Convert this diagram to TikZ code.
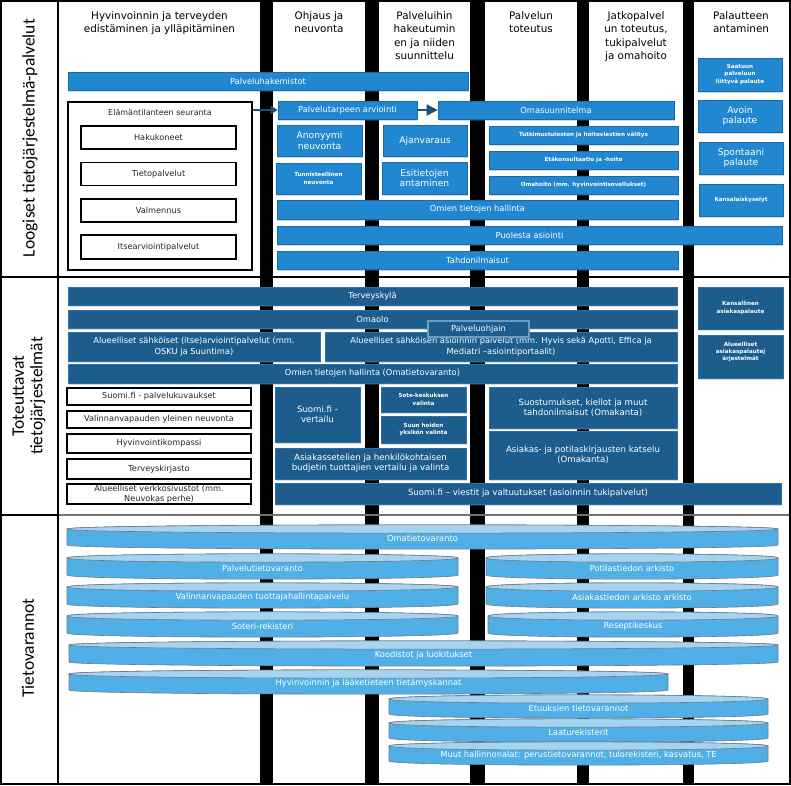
\documentclass[tikz,border=0pt]{standalone}
\usepackage{fontspec}
\setmainfont{DejaVu Sans}
\newfontfamily\labelfont{Carlito}
\usetikzlibrary{positioning,arrows.meta,shadows}
\definecolor{topblue}{RGB}{32,135,208}
\definecolor{topedge}{RGB}{24,108,172}
\definecolor{midblue}{RGB}{28,93,142}
\definecolor{midedge}{RGB}{44,114,168}
\definecolor{arrowblue}{RGB}{31,78,121}
\definecolor{cylblue}{RGB}{80,175,230}
\definecolor{cyllight}{RGB}{165,212,240}
\definecolor{cyledge}{RGB}{112,122,132}
% storage cylinder: name, x1, x2, y top, y bottom, text
\newcommand{\dbcyl}[6]{%
  \filldraw[cylbody] ({#2},{#4}) .. controls ({#2},{#4-5.5}) and ({#3},{#4-5.5}) .. ({#3},{#4})
    -- ({#3},{#5}) .. controls ({#3},{#5+5.5}) and ({#2},{#5+5.5}) .. ({#2},{#5}) -- cycle;
  \filldraw[cyltop] ({#2},{#4}) .. controls ({#2},{#4-5.5}) and ({#3},{#4-5.5}) .. ({#3},{#4})
    .. controls ({#3},{#4+5.5}) and ({#2},{#4+5.5}) .. ({#2},{#4}) -- cycle;
  \node[cyltext] (#1) at ({(#2+#3)/2},{(#4+#5)/2+1.5}) {#6};}
\begin{document}
\begin{tikzpicture}[x=1pt,y=-1pt,
    colhead/.style={anchor=north, align=center, inner sep=0pt, font=\fontsize{10.4}{13.5}\selectfont},
    sidelabel/.style={rotate=90, align=center, inner sep=0pt, font=\labelfont\fontsize{17.5}{18.5}\selectfont},
    topbox/.style={fill=topblue, draw=topedge, line width=0.6pt, text=white, align=center, inner sep=0pt,
      font=\fontsize{8.3}{10}\selectfont, drop shadow={shadow xshift=1pt, shadow yshift=-1.5pt, opacity=0.3}},
    midbox/.style={topbox, fill=midblue, draw=midedge},
    smallprint/.style={font=\bfseries\fontsize{5.6}{7.8}\selectfont},
    largeprint/.style={font=\fontsize{9.2}{10.5}\selectfont},
    midprint/.style={font=\fontsize{8.6}{10.2}\selectfont},
    plainbox/.style={draw=black, line width=1.6pt, fill=white, text=black!85, align=center, inner sep=0pt,
      font=\fontsize{8.2}{10}\selectfont},
    flowarrow/.style={draw=arrowblue, line width=1.8pt},
    cylbody/.style={fill=cylblue, draw=cyledge, line width=0.6pt},
    cyltop/.style={fill=cyllight, draw=cyledge, line width=0.6pt},
    cyltext/.style={text=white, inner sep=0pt, font=\fontsize{8.3}{10}\selectfont}]
  \useasboundingbox (0,0) rectangle (791,785);
  %% frame and columns
  \fill[black] (0,0) rectangle (791,785);
  \foreach \xa/\xb in {2/57,59/260,273/365,379/470,485/577,589/683,694/789}
    \fill[white] (\xa,2) rectangle (\xb,783);
  \draw[line width=2pt] (0,277) -- (791,277);
  \draw[black!55, line width=1.5pt] (59,515) -- (789,515);
  \draw[line width=2pt] (0,515) -- (59,515);
  %% row labels
  \node[sidelabel] (logiset) at (30,138) {Loogiset tietojärjestelmä-palvelut};
  \node[sidelabel] (toteuttavat) at (29,396) {Toteuttavat\\tietojärjestelmät};
  \node[sidelabel] (varannot) at (28,648) {Tietovarannot};
  %% column heads
  \node[colhead] (hyvinvointi) at (159.5,11) {Hyvinvoinnin ja terveyden\\edistäminen ja ylläpitäminen};
  \node[colhead] (ohjaus) at (319,11) {Ohjaus ja\\neuvonta};
  \node[colhead] (hakeutuminen) at (424.5,11) {Palveluihin\\hakeutumin\\en ja niiden\\suunnittelu};
  \node[colhead] (toteutus) at (531,11) {Palvelun\\toteutus};
  \node[colhead] (jatkopalvelut) at (636,11) {Jatkopalvel\\un toteutus,\\tukipalvelut\\ja omahoito};
  \node[colhead] (palaute) at (741,11) {Palautteen\\antaminen};
  %% logical services
  \node[topbox, minimum width=400pt, minimum height=18pt] (hakemistot) at (268,81) {Palveluhakemistot};
  \node[plainbox, minimum width=184pt, minimum height=168pt] (seuranta) at (160,186) {};
  \node[inner sep=0pt, text=black!85, font=\fontsize{8}{9}\selectfont] (seurantaotsikko) [below=8pt of seuranta.north] {Elämäntilanteen seuranta};
  \node[plainbox, minimum width=155pt, minimum height=23pt] (hakukoneet) at (158.5,137.5) {Hakukoneet};
  \node[plainbox, minimum width=155pt, minimum height=23pt] (tietopalvelut) [below=12pt of hakukoneet] {Tietopalvelut};
  \node[plainbox, minimum width=155pt, minimum height=23pt] (valmennus) [below=12pt of tietopalvelut] {Valmennus};
  \node[plainbox, minimum width=155pt, minimum height=24pt] (itsearviointi) [below=11pt of valmennus] {Itsearviointipalvelut};
  \node[topbox, minimum width=139pt, minimum height=18pt] (tarve) at (347.5,110) {Palvelutarpeen arviointi};
  \node[topbox, minimum width=236pt, minimum height=18pt] (omasuunnitelma) at (556,110) {Omasuunnitelma};
  \draw[flowarrow, -{Triangle[length=7pt,width=8pt]}] (tarve.west -| seuranta.east) -- (tarve.west);
  \draw[flowarrow, -{Triangle[length=11pt,width=11pt]}] (tarve.east) -- (omasuunnitelma.west);
  \node[topbox, largeprint, minimum width=85pt, minimum height=31pt] (anonyymi) at (319.5,140.5) {Anonyymi\\neuvonta};
  \node[topbox, largeprint, minimum width=84pt, minimum height=31pt] (ajanvaraus) at (425,140.5) {Ajanvaraus};
  \node[topbox, smallprint, minimum width=85pt, minimum height=31pt] (tunnisteellinen) at (318.5,178.5) {Tunnisteellinen\\neuvonta};
  \node[topbox, largeprint, minimum width=85pt, minimum height=32pt] (esitiedot) at (424.5,178) {Esitietojen\\antaminen};
  \node[topbox, smallprint, minimum width=189pt, minimum height=18pt] (tulokset) at (583.5,135) {Tutkimustulosten ja hoitoviestien välitys};
  \node[topbox, smallprint, minimum width=189pt, minimum height=18pt] (etakonsultaatio) at (583.5,160) {Etäkonsultaatio ja -hoito};
  \node[topbox, smallprint, minimum width=189pt, minimum height=18pt] (omahoito) at (583.5,185) {Omahoito (mm. hyvinvointisovellukset)};
  \node[topbox, minimum width=401pt, minimum height=19pt] (omattiedot) at (477.5,209.5) {Omien tietojen hallinta};
  \node[topbox, minimum width=505pt, minimum height=18pt] (puolesta) at (529.5,235) {Puolesta asiointi};
  \node[topbox, minimum width=401pt, minimum height=18pt] (tahdon) at (477.5,260) {Tahdonilmaisut};
  \node[topbox, smallprint, minimum width=84pt, minimum height=33pt] (saatuun) at (740,74.5) {Saatuun\\palveluun\\liittyvä palaute};
  \node[topbox, largeprint, minimum width=84pt, minimum height=32pt] (avoin) at (740,116) {Avoin\\palaute};
  \node[topbox, largeprint, minimum width=84pt, minimum height=32pt] (spontaani) at (741,158) {Spontaani\\palaute};
  \node[topbox, smallprint, minimum width=84pt, minimum height=32pt] (kyselyt) at (741,200) {Kansalaiskyselyt};
  %% implementing systems
  \node[midbox, minimum width=609pt, minimum height=18pt] (terveyskyla) at (372.5,296) {Terveyskylä};
  \node[midbox, minimum width=609pt, minimum height=18pt] (omaolo) at (372.5,319) {Omaolo};
  \node[midbox, font=\fontsize{8.3}{11}\selectfont, minimum width=252pt, minimum height=29pt] (arviointipalvelut) at (194,346.5)
    {Alueelliset sähköiset (itse)arviointipalvelut (mm.\\OSKU ja Suuntima)};
  \node[midbox, font=\fontsize{8.3}{11}\selectfont, minimum width=352pt, minimum height=29pt] (asiointipalvelut) at (501,347)
    {Alueelliset sähköisen asioinnin palvelut (mm. Hyvis sekä Apotti, Effica ja\\Mediatri –asiointiportaalit)};
  \node[midbox, draw=midedge!70!white, line width=1.2pt, minimum width=101pt, minimum height=16pt] (ohjain) at (478.5,329) {Palveluohjain};
  \node[midbox, minimum width=609pt, minimum height=19pt] (omatietohallinta) at (372.5,373.5) {Omien tietojen hallinta (Omatietovaranto)};
  \node[midbox, smallprint, minimum width=85pt, minimum height=42pt] (kansallinen) at (740.5,308) {Kansallinen\\asiakaspalaute};
  \node[midbox, font=\bfseries\fontsize{5.6}{6.8}\selectfont, minimum width=85pt, minimum height=43pt] (alueellinenpalaute) at (740.5,356.5)
    {Alueelliset\\asiakaspalautej\\ärjestelmät\\[4pt]};
  \node[plainbox, minimum width=184pt, minimum height=17pt] (kuvaukset) at (159,396.5) {Suomi.fi - palvelukuvaukset};
  \node[plainbox, minimum width=184pt, minimum height=17pt] (yleinenneuvonta) at (159,419.5) {Valinnanvapauden yleinen neuvonta};
  \node[plainbox, minimum width=184pt, minimum height=19pt] (kompassi) at (159,443.5) {Hyvinvointikompassi};
  \node[plainbox, minimum width=184pt, minimum height=20pt] (kirjasto) at (159,469) {Terveyskirjasto};
  \node[plainbox, font=\fontsize{8.2}{9.6}\selectfont, minimum width=184pt, minimum height=20pt] (verkkosivustot) at (159,494) {Alueelliset verkkosivustot (mm.\\Neuvokas perhe)};
  \node[midbox, midprint, minimum width=85pt, minimum height=55pt] (vertailu) at (317.5,414.5) {Suomi.fi -\\vertailu};
  \node[midbox, smallprint, minimum width=85pt, minimum height=25pt] (sotekeskus) at (423.5,399.5) {Sote-keskuksen\\valinta};
  \node[midbox, smallprint, minimum width=85pt, minimum height=27pt] (suunhoito) at (423.5,429.5) {Suun hoidon\\yksikön valinta};
  \node[midbox, midprint, minimum width=191pt, minimum height=31pt] (setelit) at (370.5,463.5)
    {Asiakassetelien ja henkilökohtaisen\\budjetin tuottajien vertailu ja valinta};
  \node[midbox, midprint, minimum width=188pt, minimum height=41pt] (suostumukset) at (583,407.5)
    {Suostumukset, kiellot ja muut\\tahdonilmaisut (Omakanta)};
  \node[midbox, midprint, minimum width=188pt, minimum height=48pt] (katselu) at (583,455)
    {Asiakas- ja potilaskirjausten katselu\\(Omakanta)};
  \node[midbox, midprint, minimum width=506pt, minimum height=21pt] (viestit) at (528,493.5)
    {Suomi.fi – viestit ja valtuutukset (asioinnin tukipalvelut)};
  %% data stores
  \dbcyl{omatieto}{67}{778}{529}{545}{Omatietovaranto}
  \dbcyl{palvelutieto}{67}{458}{558}{575}{Palvelutietovaranto}
  \dbcyl{potilastieto}{486}{778}{558}{575}{Potilastiedon arkisto}
  \dbcyl{tuottajat}{67}{458}{587}{604}{Valinnanvapauden tuottajahallintapalvelu}
  \dbcyl{asiakastieto}{486}{778}{587}{604}{Asiakastiedon arkisto arkisto}
  \dbcyl{soteri}{67}{458}{616}{633}{Soteri-rekisteri}
  \dbcyl{resepti}{488}{778}{616}{633}{Reseptikeskus}
  \dbcyl{koodistot}{69}{778}{645}{662}{Koodistot ja luokitukset}
  \dbcyl{tietamys}{69}{668}{674}{690}{Hyvinvoinnin ja lääketieteen tietämyskannat}
  \dbcyl{etuudet}{389}{768}{699}{714}{Etuuksien tietovarannot}
  \dbcyl{laatu}{389}{768}{723}{738}{Laaturekisterit}
  \dbcyl{muut}{389}{768}{746}{761}{Muut hallinnonalat: perustietovarannot, tulorekisteri, kasvatus, TE}
\end{tikzpicture}
\end{document}
